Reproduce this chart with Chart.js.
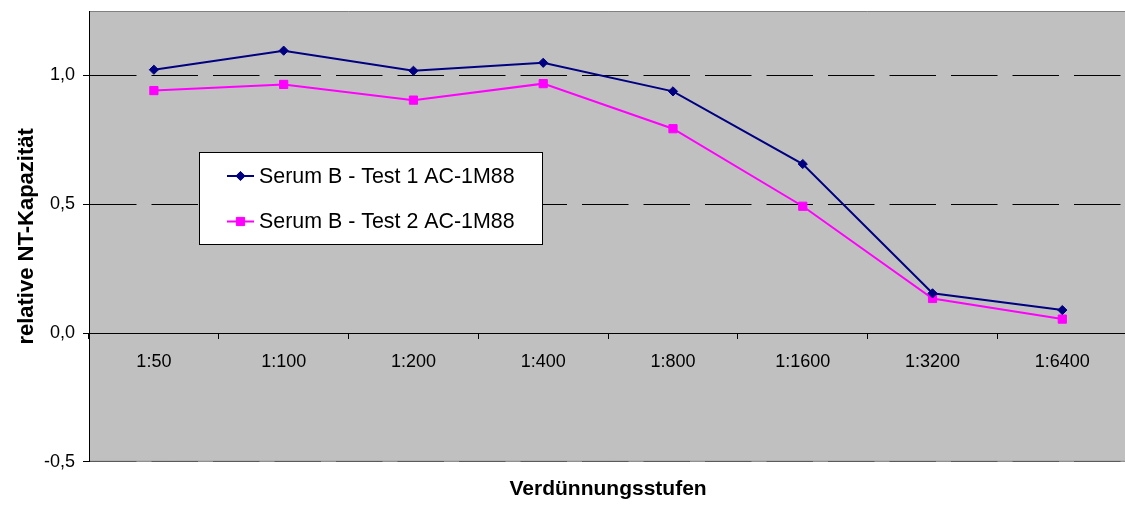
<!DOCTYPE html>
<html>
<head>
<meta charset="utf-8">
<script src="https://cdn.jsdelivr.net/npm/chart.js@4/dist/chart.umd.min.js"></script>
<style>
    html, body { margin: 0; padding: 0; background: #fff; overflow: hidden; }
    /* the plot runs slightly past the right edge of the window */
    #wrap { width: 1134px; height: 506px; position: relative; }
</style>
</head>
<body>
<div id="wrap"><canvas id="chart"></canvas></div>
<script>
// values
const dilutions = ['1:50', '1:100', '1:200', '1:400', '1:800', '1:1600', '1:3200', '1:6400'];
const test1 = [1.022, 1.096, 1.018, 1.049, 0.938, 0.656, 0.154, 0.089];
const test2 = [0.941, 0.965, 0.904, 0.968, 0.793, 0.492, 0.134, 0.054];
const seriesLabels = ['Serum B - Test 1 AC-1M88', 'Serum B - Test 2 AC-1M88'];
const yTitle = 'relative NT-Kapazität';
const xTitle = 'Verdünnungsstufen';

const FONT = "'Liberation Sans', Arial, sans-serif";

// grey plot area with a thin frame, drawn before the grid
const plotBackground = {
    id: 'plotBackground',
    beforeDraw(chart) {
        const { ctx, chartArea: a } = chart;
        ctx.save();
        ctx.fillStyle = '#c0c0c0';
        ctx.fillRect(a.left, a.top, a.right - a.left, a.bottom - a.top);
        ctx.strokeStyle = '#808080';
        ctx.lineWidth = 1;
        ctx.beginPath();
        ctx.moveTo(a.left, a.top + 0.5);
        ctx.lineTo(a.right, a.top + 0.5);
        ctx.moveTo(a.left, a.bottom - 0.5);
        ctx.lineTo(a.right, a.bottom - 0.5);
        ctx.stroke();
        ctx.restore();
    }
};

// boxed legend sitting inside the plot
const boxLegend = {
    id: 'boxLegend',
    afterDraw(chart) {
        const { ctx, chartArea: a } = chart;
        const x0 = a.left + 110, y0 = a.top + 141;
        const w = 344, h = 93;
        ctx.save();
        ctx.fillStyle = '#fff';
        ctx.fillRect(x0, y0, w, h);
        ctx.strokeStyle = '#000';
        ctx.lineWidth = 1;
        ctx.strokeRect(x0 + 0.5, y0 + 0.5, w - 1, h - 1);

        chart.data.datasets.forEach((ds, i) => {
            const cy = y0 + 24 + i * 45.5;
            ctx.strokeStyle = ds.borderColor;
            ctx.lineWidth = 2;
            ctx.beginPath();
            ctx.moveTo(x0 + 28, cy);
            ctx.lineTo(x0 + 55, cy);
            ctx.stroke();
            ctx.fillStyle = ds.pointBackgroundColor;
            ctx.strokeStyle = ds.pointBorderColor;
            ctx.lineWidth = 1;
            Chart.helpers.drawPoint(ctx, {
                pointStyle: ds.pointStyle,
                radius: ds.pointRadius,
                borderWidth: 1,
                rotation: 0
            }, x0 + 41.5, cy);
            ctx.fillStyle = '#000';
            ctx.font = '21.4px ' + FONT;
            ctx.textBaseline = 'middle';
            ctx.textAlign = 'left';
            ctx.fillText(ds.label, x0 + 60, cy + 1);
        });
        ctx.restore();
    }
};

new Chart(document.getElementById('chart'), {
    type: 'line',
    data: {
        labels: dilutions,
        datasets: [{
            label: seriesLabels[0],
            data: test1,
            borderColor: '#000080',
            borderWidth: 2,
            pointStyle: 'rectRot',
            pointRadius: 4.6,
            pointBorderWidth: 1,
            pointBackgroundColor: '#000080',
            pointBorderColor: '#000080',
            tension: 0
        }, {
            label: seriesLabels[1],
            data: test2,
            borderColor: '#ff00ff',
            borderWidth: 2,
            pointStyle: 'rect',
            pointRadius: 5.8,
            pointBorderWidth: 1,
            pointBackgroundColor: '#ff00ff',
            pointBorderColor: '#ff00ff',
            tension: 0
        }]
    },
    options: {
        responsive: true,
        maintainAspectRatio: false,
        animation: false,
        layout: { padding: { top: 11, left: 0, right: 0, bottom: 0 } },
        plugins: {
            legend: { display: false },
            tooltip: { enabled: false },
            title: {
                display: true,
                text: xTitle,
                position: 'bottom',
                fullSize: false,
                color: '#000',
                font: { family: FONT, size: 21, weight: 'bold' },
                padding: { top: 15, bottom: 4 }
            }
        },
        scales: {
            x: {
                position: { y: 0 },
                offset: true,
                afterFit(scale) {
                    scale.paddingLeft = 0;
                    scale.paddingRight = 0;
                },
                grid: {
                    offset: true,
                    drawOnChartArea: false,
                    drawTicks: true,
                    tickLength: 5,
                    color: '#000'
                },
                border: { display: true, color: '#000', width: 1 },
                ticks: {
                    color: '#000',
                    padding: 13,
                    maxRotation: 0,
                    font: { family: FONT, size: 18 }
                }
            },
            y: {
                min: -0.5,
                max: 1.25,
                afterBuildTicks(scale) {
                    scale.ticks = scale.ticks.filter(t => t.value <= 1.0001);
                },
                afterFit(scale) {
                    scale.width = 89;
                    scale.paddingTop = 0;
                    scale.paddingBottom = 0;
                },
                grid: {
                    color: ctx => (ctx.tick && ctx.tick.value === -0.5) ? '#5a5a5a' : '#000',
                    lineWidth: 1,
                    tickLength: 6,
                    tickColor: '#000'
                },
                border: {
                    display: true,
                    color: '#000',
                    width: 1,
                    dash: ctx => (ctx.tick && ctx.tick.value === 0) ? [] : [46.5, 15]
                },
                ticks: {
                    stepSize: 0.5,
                    color: '#000',
                    padding: 8,
                    font: { family: FONT, size: 18 },
                    callback: v => v.toFixed(1).replace('.', ',')
                },
                title: {
                    display: true,
                    text: yTitle,
                    color: '#000',
                    font: { family: FONT, size: 22, weight: 'bold' },
                    padding: { top: 14, bottom: 0 }
                }
            }
        }
    },
    plugins: [plotBackground, boxLegend]
});
</script>
</body>
</html>
